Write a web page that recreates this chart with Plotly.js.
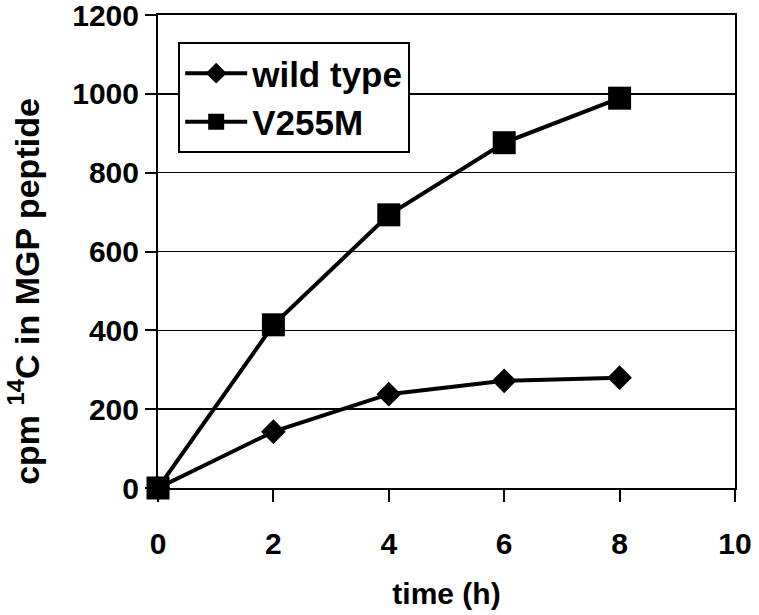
<!DOCTYPE html>
<html>
<head>
<meta charset="utf-8">
<script src="https://cdn.plot.ly/plotly-3.0.1.min.js"></script>
<style>html,body{margin:0;padding:0;background:#fff;}#chart{width:759px;height:615px;}</style>
</head>
<body>
<div id="chart"></div>
<script>
const timeH = [0, 2, 4, 6, 8];
const wildType = [0, 143, 238, 272, 280];
const v255m = [0, 414, 693, 876, 989];
const seriesNames = ["wild type", "V255M"];
const xTicks = [0, 2, 4, 6, 8, 10];
const yTicks = [0, 200, 400, 600, 800, 1000, 1200];
const xTitle = "time (h)";
const yTitle = "cpm <sup>14</sup>C in MGP peptide";

const FONT = "Liberation Sans, Arial, Helvetica, sans-serif";

const traces = [
  {
    x: timeH, y: wildType, name: seriesNames[0], type: "scatter", mode: "lines+markers",
    line: {color: "#000", width: 4},
    marker: {symbol: "diamond", size: 19, color: "#000"},
    cliponaxis: false
  },
  {
    x: timeH, y: v255m, name: seriesNames[1], type: "scatter", mode: "lines+markers",
    line: {color: "#000", width: 4},
    marker: {symbol: "square", size: 23, color: "#000"},
    cliponaxis: false
  }
];

const layout = {
  width: 759, height: 615,
  margin: {l: 158, r: 24, t: 15, b: 127},
  paper_bgcolor: "#fff", plot_bgcolor: "#fff",
  font: {family: FONT, color: "#000", size: 30, weight: "bold"},
  showlegend: true,
  legend: {
    x: 0.035, y: 0.943, xanchor: "left", yanchor: "top",
    bgcolor: "#fff", bordercolor: "#000", borderwidth: 2,
    font: {family: FONT, size: 35, color: "#000", weight: "bold"},
    itemwidth: 62
  },
  xaxis: {
    range: [0, 10], tickvals: xTicks, ticktext: xTicks.map(String),
    showline: true, linecolor: "#000", linewidth: 2, mirror: true,
    ticks: "outside", ticklen: 12, tickwidth: 2, tickcolor: "#000",
    ticklabelstandoff: 16, ticklabeloverflow: "allow",
    showgrid: false, zeroline: false,
    tickfont: {family: FONT, size: 30, color: "#000", weight: "bold"},
    title: {text: xTitle, font: {family: FONT, size: 30, color: "#000", weight: "bold"}, standoff: 24}
  },
  yaxis: {
    range: [0, 1200], tickvals: yTicks, ticktext: yTicks.map(String),
    showline: true, linecolor: "#000", linewidth: 2, mirror: true,
    ticks: "outside", ticklen: 11, tickwidth: 2, tickcolor: "#000",
    ticklabeloverflow: "allow",
    showgrid: true, gridcolor: "#000", gridwidth: 1.5, zeroline: false,
    tickfont: {family: FONT, size: 30, color: "#000", weight: "bold"}
  },
  annotations: [
    {
      text: yTitle, xref: "paper", yref: "paper",
      x: -0.232, y: 0.415, xanchor: "center", yanchor: "middle",
      textangle: -90, showarrow: false,
      font: {family: FONT, size: 34, color: "#000", weight: "bold"}
    }
  ]
};

Plotly.newPlot("chart", traces, layout, {displayModeBar: false, staticPlot: true});
</script>
</body>
</html>
